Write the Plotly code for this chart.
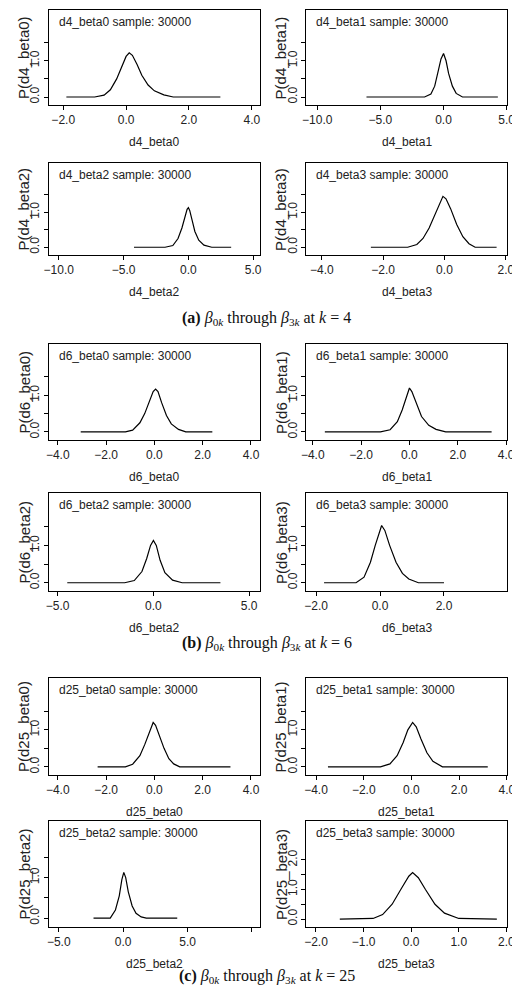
import plotly.graph_objects as go

W, H = 520, 990

# panel names, curve data
names = ["d4_beta0", "d4_beta1", "d4_beta2", "d4_beta3",
         "d6_beta0", "d6_beta1", "d6_beta2", "d6_beta3",
         "d25_beta0", "d25_beta1", "d25_beta2", "d25_beta3"]

xs = [
    [-1.9, -1.0, -0.7, -0.5, -0.3, -0.1, 0.0, 0.1, 0.2, 0.35, 0.5, 0.7, 0.9, 1.2, 1.5, 3.0],
    [-6.1, -1.5, -1.0, -0.7, -0.4, -0.2, 0.0, 0.2, 0.4, 0.7, 1.0, 1.5, 4.3],
    [-4.2, -1.8, -1.2, -0.8, -0.5, -0.3, -0.1, 0.0, 0.1, 0.3, 0.5, 0.8, 1.2, 1.8, 3.3],
    [-2.4, -1.2, -0.9, -0.7, -0.5, -0.3, -0.15, -0.05, 0.05, 0.2, 0.4, 0.6, 0.8, 1.0, 1.7],
    [-3.05, -1.2, -0.9, -0.6, -0.4, -0.2, -0.05, 0.05, 0.15, 0.3, 0.5, 0.7, 1.0, 1.3, 2.4],
    [-3.5, -1.2, -0.8, -0.5, -0.3, -0.1, 0.0, 0.1, 0.3, 0.5, 0.8, 1.1, 1.5, 3.4],
    [-4.5, -1.5, -1.0, -0.6, -0.35, -0.15, 0.0, 0.15, 0.35, 0.6, 1.0, 1.5, 3.5],
    [-1.75, -0.75, -0.5, -0.3, -0.15, 0.0, 0.05, 0.15, 0.3, 0.5, 0.7, 0.9, 1.2, 2.0],
    [-2.35, -1.2, -0.9, -0.6, -0.4, -0.2, -0.05, 0.05, 0.2, 0.4, 0.6, 0.8, 1.05, 3.15],
    [-3.5, -1.3, -0.9, -0.6, -0.35, -0.15, 0.05, 0.2, 0.4, 0.65, 0.9, 1.3, 3.2],
    [-2.3, -1.0, -0.6, -0.3, -0.1, 0.05, 0.2, 0.4, 0.7, 1.0, 1.4, 1.8, 4.2],
    [-1.5, -0.8, -0.6, -0.4, -0.2, -0.05, 0.03, 0.15, 0.3, 0.5, 0.7, 1.0, 1.8],
]
ys = [
    [0, 0, 0.05, 0.2, 0.5, 0.9, 1.12, 1.22, 1.15, 0.9, 0.6, 0.33, 0.17, 0.06, 0, 0],
    [0, 0, 0.08, 0.3, 0.75, 1.05, 1.2, 1.0, 0.65, 0.3, 0.1, 0, 0],
    [0, 0, 0.05, 0.25, 0.55, 0.85, 1.08, 1.13, 1.05, 0.75, 0.45, 0.2, 0.06, 0, 0],
    [0, 0, 0.08, 0.25, 0.55, 0.95, 1.3, 1.45, 1.38, 1.1, 0.65, 0.3, 0.1, 0, 0],
    [0, 0, 0.05, 0.25, 0.5, 0.85, 1.1, 1.17, 1.1, 0.8, 0.45, 0.22, 0.07, 0, 0],
    [0, 0, 0.06, 0.28, 0.6, 1.0, 1.2, 1.1, 0.75, 0.42, 0.18, 0.07, 0, 0],
    [0, 0, 0.06, 0.3, 0.65, 1.0, 1.13, 1.0, 0.6, 0.27, 0.07, 0, 0],
    [0, 0, 0.15, 0.55, 1.0, 1.45, 1.53, 1.4, 1.0, 0.55, 0.25, 0.1, 0, 0],
    [0, 0, 0.07, 0.3, 0.6, 0.95, 1.2, 1.12, 0.85, 0.5, 0.22, 0.08, 0, 0],
    [0, 0, 0.08, 0.3, 0.65, 1.0, 1.2, 1.08, 0.75, 0.38, 0.15, 0, 0],
    [0, 0, 0.2, 0.55, 0.95, 1.13, 1.0, 0.65, 0.3, 0.12, 0.03, 0, 0],
    [0, 0.02, 0.15, 0.5, 1.05, 1.45, 1.57, 1.4, 1.0, 0.5, 0.2, 0.02, 0],
]

# x axis ticks per panel
xticks = [
    [-2, 0, 2, 4], [-10, -5, 0, 5], [-10, -5, 0, 5], [-4, -2, 0, 2],
    [-4, -2, 0, 2, 4], [-4, -2, 0, 2, 4], [-5, 0, 5], [-2, 0, 2, 4],
    [-4, -2, 0, 2, 4], [-4, -2, 0, 2, 4], [-5, 0, 5, 10], [-2, -1, 0, 1, 2],
]
xhidden = {10: [10]}  # tick drawn but unlabeled
xranges = [
    [-2.45, 4.25], [-10.85, 5.05], [-10.75, 5.5], [-4.5, 2.05],
    [-4.36, 4.36], [-4.26, 4.05], [-5.45, 5.55], [-2.3, 3.98],
    [-4.36, 4.36], [-4.4, 4.02], [-5.75, 10.6], [-2.2, 2.02],
]
yranges = [[-0.22, 2.4]] * 11 + [[-0.27, 3.32]]
sample = 30000

captions = ["(a)", "(b)", "(c)"]
kvals = [4, 6, 25]

# layout in pixels
col_x = [(37, 253), (301, 507)]
row_y = [(2, 97), (155, 247), (336, 432), (485, 583), (670, 767), (813, 919)]
cap_y = [310, 635, 968]


def fmt(v):
    s = f"{abs(v):.1f}"
    return ("\u2212" + s) if v < 0 else s


fig = go.Figure()
ann = []
font = "Liberation Sans, Arial, sans-serif"
for i, nm in enumerate(names):
    r, c = divmod(i, 2)
    x0, x1 = col_x[c]
    y0, y1 = row_y[r]
    ax = "" if i == 0 else str(i + 1)
    fig.add_trace(go.Scatter(x=xs[i], y=ys[i], mode="lines", xaxis="x" + ax, yaxis="y" + ax,
                             line=dict(color="black", width=1.2), showlegend=False,
                             hoverinfo="skip"))
    if i == 11:
        yv = [0, 0.5, 1, 1.5, 2]
        yt = ["0.0", "", "1.0", "", "2.0"]
    else:
        yv = [0, 0.5, 1, 1.5]
        yt = ["0.0", "", "1.0", ""]
    hid = xhidden.get(i, [])
    common = dict(showgrid=False, zeroline=False, showline=True, linecolor="black",
                  linewidth=1, mirror=True, ticks="outside", ticklen=4,
                  tickcolor="black", tickfont=dict(family=font, size=12, color="#222"))
    fig.update_layout(**{
        "xaxis" + ax: dict(domain=[x0 / W, x1 / W], range=xranges[i], anchor="y" + ax,
                           tickvals=xticks[i],
                           ticktext=["" if v in hid else fmt(v) for v in xticks[i]],
                           **common),
        "yaxis" + ax: dict(domain=[1 - y1 / H, 1 - y0 / H], range=yranges[i], anchor="x" + ax,
                           tickvals=yv, ticktext=yt, tickangle=-90, **common),
    })
    ann.append(dict(x=(x0 + 8) / W, y=1 - (y0 + 3) / H, xref="paper", yref="paper",
                    xanchor="left", yanchor="top", showarrow=False,
                    text=f"{nm} sample: {sample}",
                    font=dict(family=font, size=12, color="#222")))
    ann.append(dict(x=(x0 + x1) / 2 / W, y=1 - (y1 + 37) / H, xref="paper", yref="paper",
                    xanchor="center", yanchor="middle", showarrow=False, text=nm,
                    font=dict(family=font, size=12, color="#222")))
    ann.append(dict(x=(x0 - 37) / W, y=1 - (y0 + y1) / 2 / H, xref="paper", yref="paper",
                    xanchor="left", yanchor="middle", showarrow=False, textangle=-90,
                    text=f"P({nm})", font=dict(family=font, size=15, color="#222")))

for lab, k, cy in zip(captions, kvals, cap_y):
    ann.append(dict(x=0.5, y=1 - cy / H, xref="paper", yref="paper", showarrow=False,
                    xanchor="center", yanchor="middle",
                    text=f"<b>{lab}</b> <i>β</i><sub>0<i>k</i></sub> through "
                         f"<i>β</i><sub>3<i>k</i></sub> at <i>k</i> = {k}",
                    font=dict(family="Liberation Serif, Times New Roman, serif",
                              size=16, color="#111")))

fig.update_layout(width=W, height=H, margin=dict(l=0, r=0, t=0, b=0),
                  paper_bgcolor="white", plot_bgcolor="white", annotations=ann)
fig.write_html("out.html")
